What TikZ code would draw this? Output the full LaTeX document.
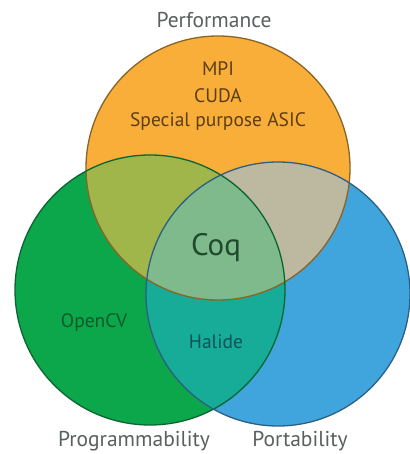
\documentclass[tikz,border=0pt]{standalone}
\usepackage{fontspec}
\setmainfont{PT Sans}
% circle fills
\definecolor{perf}{HTML}{F9AE3A}
\definecolor{prog}{HTML}{0CA64B}
\definecolor{port}{HTML}{40A5DC}
% overlap fills
\definecolor{perfprog}{HTML}{A0B54A}
\definecolor{perfport}{HTML}{BDB8A0}
\definecolor{progport}{HTML}{16AC98}
\definecolor{allthree}{HTML}{7EBA8C}
% outlines and text
\definecolor{perfline}{HTML}{8A6424}
\definecolor{progline}{HTML}{0B6533}
\definecolor{portline}{HTML}{2D5F84}
\definecolor{caption}{HTML}{5A5F60}
\definecolor{perftext}{HTML}{5C3E12}
\definecolor{coqtext}{HTML}{1F4A2C}
\definecolor{progtext}{HTML}{0C5A2C}
\definecolor{porttext}{HTML}{0D5256}
\tikzset{
  rim/.style={line width=1.3pt},
  caplabel/.style={font=\fontsize{21.5}{24}\selectfont, text=caption},
  innerlabel/.style={font=\fontsize{19.5}{22}\selectfont},
}
\begin{document}
\begin{tikzpicture}[x=1pt,y=-1pt]
\useasboundingbox (0,0) rectangle (409,454);
\fill[white] (0,0) rectangle (409,454);

\coordinate (P) at (218,168);
\coordinate (G) at (150,290);
\coordinate (B) at (278,294);
\def\rP{132pt}
\def\rG{135pt}
\def\rB{132pt}

% single sets
\fill[perf] (P) circle[radius=\rP];
\fill[prog] (G) circle[radius=\rG];
\fill[port] (B) circle[radius=\rB];

% pairwise overlaps
\begin{scope}
  \clip (P) circle[radius=\rP];
  \fill[perfprog] (G) circle[radius=\rG];
\end{scope}
\begin{scope}
  \clip (P) circle[radius=\rP];
  \fill[perfport] (B) circle[radius=\rB];
\end{scope}
\begin{scope}
  \clip (G) circle[radius=\rG];
  \fill[progport] (B) circle[radius=\rB];
\end{scope}
% triple overlap
\begin{scope}
  \clip (P) circle[radius=\rP];
  \clip (G) circle[radius=\rG];
  \fill[allthree] (B) circle[radius=\rB];
\end{scope}

% outlines
\draw[rim, perfline] (P) circle[radius=\rP];
\draw[rim, progline] (G) circle[radius=\rG];
\draw[rim, portline] (B) circle[radius=\rB];

% captions
\node[caplabel] (perfcap) at (214,20) {Performance};
\node[caplabel] (progcap) at (134,441) {Programmability};
\node[caplabel] (portcap) at (300,441) {Portability};

% set members
\node[innerlabel, text=perftext] (mpi) at (218,69) {MPI};
\node[innerlabel, text=perftext] (cuda) at (218,96) {CUDA};
\node[innerlabel, text=perftext] (asic) at (218,122) {Special purpose ASIC};
\node[font=\fontsize{31}{34}\selectfont, text=coqtext] (coq) at (216,248) {Coq};
\node[innerlabel, text=progtext] (opencv) at (94,323) {OpenCV};
\node[innerlabel, text=porttext] (halide) at (216,342) {Halide};
\end{tikzpicture}
\end{document}
